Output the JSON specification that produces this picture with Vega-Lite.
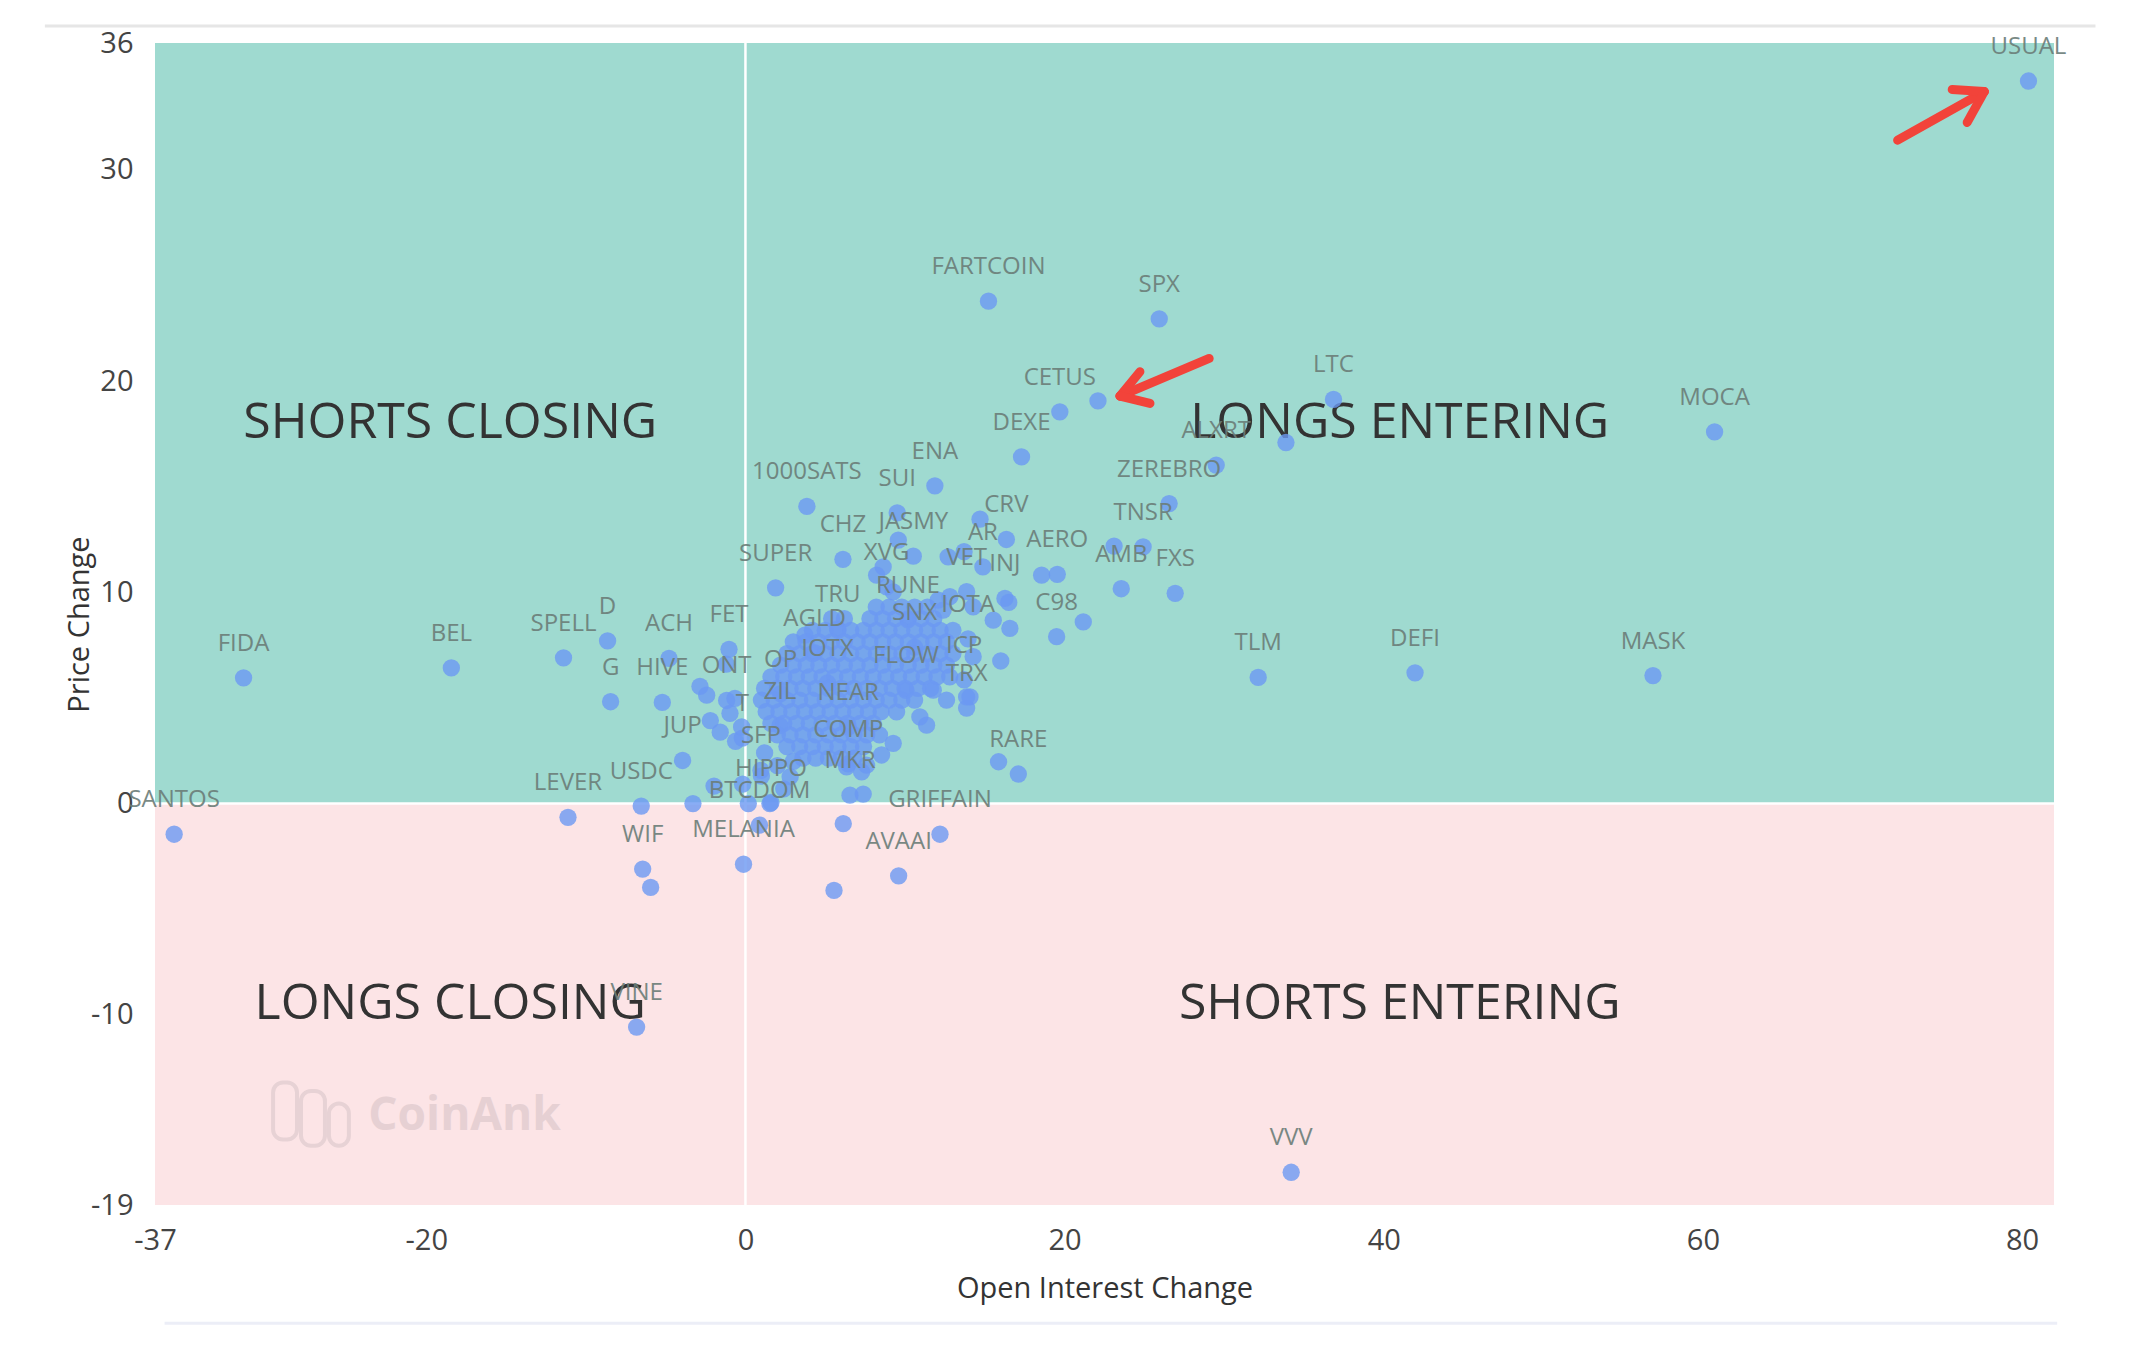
{
 "$schema": "https://vega.github.io/schema/vega-lite/v6.json",
 "width": 1899,
 "height": 1162,
 "autosize": {"type": "none"},
 "padding": {"left": 155, "top": 43, "right": 90, "bottom": 145},
 "background": "white",
 "config": {"view": {"stroke": null}, "font": "Open Sans"},
 "datasets": {
  "quadUp": [{"oi": -37, "oi2": 82, "pc": 0, "pc2": 36}],
  "quadDown": [{"oi": -37, "oi2": 82, "pc": -19, "pc2": 0}],
  "cross": [
   {"oi": 0, "oi2": 0, "pc": -19, "pc2": 36},
   {"oi": -37, "oi2": 82, "pc": 0, "pc2": 0}
  ],
  "frameTop": [{"oi": -43.9, "oi2": 84.6, "pc": 36.8, "pc2": 36.8}],
  "frameBot": [{"oi": -36.4, "oi2": 82.2, "pc": -24.6, "pc2": -24.6}],
  "zones": [
   {"oi": -18.5, "pc": 18, "txt": "SHORTS CLOSING"},
   {"oi": 41, "pc": 18, "txt": "LONGS ENTERING"},
   {"oi": -18.5, "pc": -9.5, "txt": "LONGS CLOSING"},
   {"oi": 41, "pc": -9.5, "txt": "SHORTS ENTERING"}
  ],
  "wmark": [{"oi": -17.6, "pc": -14.8, "txt": "CoinAnk"}],
  "logo": [
   {"oi": -29.6, "oi2": -28.1, "pc": -13.2, "pc2": -15.9},
   {"oi": -27.85, "oi2": -26.35, "pc": -13.6, "pc2": -16.2},
   {"oi": -26.1, "oi2": -24.85, "pc": -14.2, "pc2": -16.2}
  ],
  "arrows": [
   {"oi": 72.2, "pc": 31.4, "oi2": 77.63, "pc2": 33.7},
   {"oi": 75.62, "pc": 33.8, "oi2": 77.63, "pc2": 33.7},
   {"oi": 76.56, "pc": 32.24, "oi2": 77.63, "pc2": 33.7},
   {"oi": 29.06, "pc": 21.07, "oi2": 23.47, "pc2": 19.29},
   {"oi": 24.72, "pc": 20.44, "oi2": 23.47, "pc2": 19.29},
   {"oi": 25.35, "pc": 18.94, "oi2": 23.47, "pc2": 19.29}
  ],
  "pts": [
   {"coin": "USUAL", "oi": 80.4, "pc": 34.2},
   {"coin": "FARTCOIN", "oi": 15.23, "pc": 23.78},
   {"coin": "SPX", "oi": 25.93, "pc": 22.94},
   {"coin": "CETUS", "oi": 19.7, "pc": 18.54},
   {"coin": "LTC", "oi": 36.85, "pc": 19.13},
   {"coin": "MOCA", "oi": 60.73, "pc": 17.59},
   {"coin": "DEXE", "oi": 17.3, "pc": 16.41},
   {"coin": "ALXRT", "oi": 29.5, "pc": 16.02},
   {"coin": "ZEREBRO", "oi": 26.55, "pc": 14.2},
   {"coin": "ENA", "oi": 11.87, "pc": 15.04},
   {"coin": "1000SATS", "oi": 3.85, "pc": 14.07},
   {"coin": "SUI", "oi": 9.51, "pc": 13.76},
   {"coin": "CRV", "oi": 16.35, "pc": 12.5},
   {"coin": "TNSR", "oi": 24.92, "pc": 12.15},
   {"coin": "CHZ", "oi": 6.11, "pc": 11.56},
   {"coin": "JASMY", "oi": 10.52, "pc": 11.71},
   {"coin": "AR", "oi": 14.88, "pc": 11.2},
   {"coin": "AERO", "oi": 19.54, "pc": 10.85},
   {"coin": "SUPER", "oi": 1.89, "pc": 10.21},
   {"coin": "XVG", "oi": 8.85, "pc": 10.26},
   {"coin": "VET", "oi": 13.86, "pc": 10.03},
   {"coin": "INJ", "oi": 16.26, "pc": 9.71},
   {"coin": "AMB", "oi": 23.55, "pc": 10.17},
   {"coin": "FXS", "oi": 26.93, "pc": 9.95},
   {"coin": "TRU", "oi": 5.78, "pc": 8.27},
   {"coin": "RUNE", "oi": 10.18, "pc": 8.7},
   {"coin": "C98", "oi": 19.5, "pc": 7.9},
   {"coin": "D", "oi": -8.64, "pc": 7.7},
   {"coin": "IOTA", "oi": 13.95, "pc": 7.8},
   {"coin": "SNX", "oi": 10.6, "pc": 7.4},
   {"coin": "SPELL", "oi": -11.4, "pc": 6.9},
   {"coin": "AGLD", "oi": 4.33, "pc": 7.14},
   {"coin": "ACH", "oi": -4.79, "pc": 6.87},
   {"coin": "FET", "oi": -1.03, "pc": 7.3},
   {"coin": "BEL", "oi": -18.43, "pc": 6.42},
   {"coin": "TLM", "oi": 32.13, "pc": 5.97},
   {"coin": "DEFI", "oi": 41.96, "pc": 6.19},
   {"coin": "MASK", "oi": 56.87, "pc": 6.06},
   {"coin": "FIDA", "oi": -31.45, "pc": 5.95},
   {"coin": "IOTX", "oi": 5.14, "pc": 5.71},
   {"coin": "ICP", "oi": 13.7, "pc": 5.86},
   {"coin": "FLOW", "oi": 10.06, "pc": 5.36},
   {"coin": "OP", "oi": 2.2, "pc": 5.2},
   {"coin": "G", "oi": -8.45, "pc": 4.82},
   {"coin": "HIVE", "oi": -5.21, "pc": 4.79},
   {"coin": "ONT", "oi": -1.18, "pc": 4.88},
   {"coin": "TRX", "oi": 13.86, "pc": 4.52},
   {"coin": "ZIL", "oi": 2.16, "pc": 3.69},
   {"coin": "NEAR", "oi": 6.44, "pc": 3.62},
   {"coin": "T", "oi": -0.2, "pc": 3.1},
   {"coin": "JUP", "oi": -3.94, "pc": 2.04},
   {"coin": "COMP", "oi": 6.44, "pc": 1.88},
   {"coin": "SFP", "oi": 0.97, "pc": 1.57},
   {"coin": "RARE", "oi": 17.1, "pc": 1.4},
   {"coin": "MKR", "oi": 6.55, "pc": 0.4},
   {"coin": "HIPPO", "oi": 1.6, "pc": 0.05},
   {"coin": "USDC", "oi": -6.53, "pc": -0.12},
   {"coin": "LEVER", "oi": -11.12, "pc": -0.65},
   {"coin": "BTCDOM", "oi": 0.88, "pc": -1.02},
   {"coin": "SANTOS", "oi": -35.8, "pc": -1.45},
   {"coin": "GRIFFAIN", "oi": 12.19, "pc": -1.45},
   {"coin": "WIF", "oi": -6.44, "pc": -3.1},
   {"coin": "MELANIA", "oi": -0.12, "pc": -2.87},
   {"coin": "AVAAI", "oi": 9.6, "pc": -3.42},
   {"coin": "VINE", "oi": -6.82, "pc": -10.58},
   {"coin": "VVV", "oi": 34.2, "pc": -17.45},
   {"coin": "", "oi": 22.09, "pc": 19.06},
   {"coin": "", "oi": 33.87, "pc": 17.09},
   {"coin": "", "oi": 14.7, "pc": 13.46},
   {"coin": "", "oi": 23.1, "pc": 12.19},
   {"coin": "", "oi": 9.58, "pc": 12.47},
   {"coin": "", "oi": 12.7, "pc": 11.68},
   {"coin": "", "oi": 13.7, "pc": 11.92},
   {"coin": "", "oi": 18.56, "pc": 10.81},
   {"coin": "", "oi": 16.5, "pc": 9.52},
   {"coin": "", "oi": 12.08, "pc": 9.63},
   {"coin": "", "oi": 12.81, "pc": 9.79},
   {"coin": "", "oi": 12.39, "pc": 9.16},
   {"coin": "", "oi": 14.27, "pc": 9.31},
   {"coin": "", "oi": 15.53, "pc": 8.68},
   {"coin": "", "oi": 16.57, "pc": 8.29},
   {"coin": "", "oi": 21.17, "pc": 8.6},
   {"coin": "", "oi": 8.63, "pc": 11.2},
   {"coin": "", "oi": 8.22, "pc": 10.81},
   {"coin": "", "oi": 9.26, "pc": 10.02},
   {"coin": "", "oi": 14.27, "pc": 6.95},
   {"coin": "", "oi": 16.0, "pc": 6.75},
   {"coin": "", "oi": 14.07, "pc": 5.05},
   {"coin": "", "oi": 11.77, "pc": 5.37},
   {"coin": "", "oi": 12.6, "pc": 4.9},
   {"coin": "", "oi": 13.86, "pc": 5.05},
   {"coin": "", "oi": 11.35, "pc": 3.71},
   {"coin": "", "oi": 10.93, "pc": 4.1},
   {"coin": "", "oi": 9.47, "pc": 4.34},
   {"coin": "", "oi": 9.26, "pc": 2.85},
   {"coin": "", "oi": 8.53, "pc": 2.3},
   {"coin": "", "oi": 7.59, "pc": 1.82},
   {"coin": "", "oi": 7.28, "pc": 1.5},
   {"coin": "", "oi": 6.34, "pc": 1.74},
   {"coin": "", "oi": 7.38, "pc": 0.45},
   {"coin": "", "oi": 15.86, "pc": 1.98},
   {"coin": "", "oi": 6.13, "pc": -0.95},
   {"coin": "", "oi": 5.55, "pc": -4.11},
   {"coin": "", "oi": 1.53, "pc": 0.0},
   {"coin": "", "oi": 0.18, "pc": 0.0},
   {"coin": "", "oi": -0.18, "pc": 0.92},
   {"coin": "", "oi": -1.97, "pc": 0.83},
   {"coin": "", "oi": -3.29, "pc": 0.0},
   {"coin": "", "oi": -5.94, "pc": -3.97},
   {"coin": "", "oi": -2.85, "pc": 5.55},
   {"coin": "", "oi": -2.43, "pc": 5.13},
   {"coin": "", "oi": -0.66, "pc": 4.98},
   {"coin": "", "oi": -0.97, "pc": 4.27},
   {"coin": "", "oi": -2.2, "pc": 3.93},
   {"coin": "", "oi": -1.58, "pc": 3.38},
   {"coin": "", "oi": -0.62, "pc": 2.95},
   {"coin": "", "oi": -0.24, "pc": 3.63},
   {"coin": "", "oi": -1.2, "pc": 6.6},
   {"coin": "", "oi": 3.73, "pc": 7.97},
   {"coin": "", "oi": 1.2, "pc": 2.4},
   {"coin": "", "oi": 2.0, "pc": 1.8},
   {"coin": "", "oi": 2.8, "pc": 1.27},
   {"coin": "", "oi": 3.0, "pc": 2.0},
   {"coin": "", "oi": 1.0, "pc": 1.3},
   {"coin": "", "oi": 2.4, "pc": 0.7},
   {"coin": "", "oi": 8.2, "pc": 9.3}, {"coin": "", "oi": 9.0, "pc": 9.3}, {"coin": "", "oi": 9.8, "pc": 9.3}, {"coin": "", "oi": 10.6, "pc": 9.3}, {"coin": "", "oi": 11.4, "pc": 9.3},
   {"coin": "", "oi": 5.4, "pc": 8.75}, {"coin": "", "oi": 6.2, "pc": 8.75}, {"coin": "", "oi": 7.8, "pc": 8.75}, {"coin": "", "oi": 8.6, "pc": 8.75}, {"coin": "", "oi": 9.4, "pc": 8.75}, {"coin": "", "oi": 10.2, "pc": 8.75}, {"coin": "", "oi": 11.0, "pc": 8.75}, {"coin": "", "oi": 11.8, "pc": 8.75},
   {"coin": "", "oi": 4.2, "pc": 8.2}, {"coin": "", "oi": 5.0, "pc": 8.2}, {"coin": "", "oi": 5.8, "pc": 8.2}, {"coin": "", "oi": 6.6, "pc": 8.2}, {"coin": "", "oi": 7.4, "pc": 8.2}, {"coin": "", "oi": 8.2, "pc": 8.2}, {"coin": "", "oi": 9.0, "pc": 8.2}, {"coin": "", "oi": 9.8, "pc": 8.2}, {"coin": "", "oi": 10.6, "pc": 8.2}, {"coin": "", "oi": 11.4, "pc": 8.2}, {"coin": "", "oi": 12.2, "pc": 8.2}, {"coin": "", "oi": 13.0, "pc": 8.2},
   {"coin": "", "oi": 3.0, "pc": 7.65}, {"coin": "", "oi": 3.8, "pc": 7.65}, {"coin": "", "oi": 4.6, "pc": 7.65}, {"coin": "", "oi": 5.4, "pc": 7.65}, {"coin": "", "oi": 6.2, "pc": 7.65}, {"coin": "", "oi": 7.0, "pc": 7.65}, {"coin": "", "oi": 7.8, "pc": 7.65}, {"coin": "", "oi": 8.6, "pc": 7.65}, {"coin": "", "oi": 9.4, "pc": 7.65}, {"coin": "", "oi": 10.2, "pc": 7.65}, {"coin": "", "oi": 11.0, "pc": 7.65}, {"coin": "", "oi": 11.8, "pc": 7.65}, {"coin": "", "oi": 12.6, "pc": 7.65},
   {"coin": "", "oi": 2.6, "pc": 7.1}, {"coin": "", "oi": 3.4, "pc": 7.1}, {"coin": "", "oi": 4.2, "pc": 7.1}, {"coin": "", "oi": 5.0, "pc": 7.1}, {"coin": "", "oi": 5.8, "pc": 7.1}, {"coin": "", "oi": 6.6, "pc": 7.1}, {"coin": "", "oi": 7.4, "pc": 7.1}, {"coin": "", "oi": 8.2, "pc": 7.1}, {"coin": "", "oi": 9.0, "pc": 7.1}, {"coin": "", "oi": 9.8, "pc": 7.1}, {"coin": "", "oi": 10.6, "pc": 7.1}, {"coin": "", "oi": 11.4, "pc": 7.1}, {"coin": "", "oi": 12.2, "pc": 7.1}, {"coin": "", "oi": 13.0, "pc": 7.1},
   {"coin": "", "oi": 2.2, "pc": 6.55}, {"coin": "", "oi": 3.0, "pc": 6.55}, {"coin": "", "oi": 3.8, "pc": 6.55}, {"coin": "", "oi": 4.6, "pc": 6.55}, {"coin": "", "oi": 5.4, "pc": 6.55}, {"coin": "", "oi": 6.2, "pc": 6.55}, {"coin": "", "oi": 7.0, "pc": 6.55}, {"coin": "", "oi": 7.8, "pc": 6.55}, {"coin": "", "oi": 8.6, "pc": 6.55}, {"coin": "", "oi": 9.4, "pc": 6.55}, {"coin": "", "oi": 10.2, "pc": 6.55}, {"coin": "", "oi": 11.0, "pc": 6.55}, {"coin": "", "oi": 11.8, "pc": 6.55}, {"coin": "", "oi": 12.6, "pc": 6.55},
   {"coin": "", "oi": 1.6, "pc": 6.0}, {"coin": "", "oi": 2.4, "pc": 6.0}, {"coin": "", "oi": 3.2, "pc": 6.0}, {"coin": "", "oi": 4.0, "pc": 6.0}, {"coin": "", "oi": 4.8, "pc": 6.0}, {"coin": "", "oi": 5.6, "pc": 6.0}, {"coin": "", "oi": 6.4, "pc": 6.0}, {"coin": "", "oi": 7.2, "pc": 6.0}, {"coin": "", "oi": 8.0, "pc": 6.0}, {"coin": "", "oi": 8.8, "pc": 6.0}, {"coin": "", "oi": 9.6, "pc": 6.0}, {"coin": "", "oi": 10.4, "pc": 6.0}, {"coin": "", "oi": 11.2, "pc": 6.0}, {"coin": "", "oi": 12.0, "pc": 6.0}, {"coin": "", "oi": 12.8, "pc": 6.0},
   {"coin": "", "oi": 1.2, "pc": 5.45}, {"coin": "", "oi": 2.0, "pc": 5.45}, {"coin": "", "oi": 2.8, "pc": 5.45}, {"coin": "", "oi": 3.6, "pc": 5.45}, {"coin": "", "oi": 4.4, "pc": 5.45}, {"coin": "", "oi": 5.2, "pc": 5.45}, {"coin": "", "oi": 6.0, "pc": 5.45}, {"coin": "", "oi": 6.8, "pc": 5.45}, {"coin": "", "oi": 7.6, "pc": 5.45}, {"coin": "", "oi": 8.4, "pc": 5.45}, {"coin": "", "oi": 9.2, "pc": 5.45}, {"coin": "", "oi": 10.0, "pc": 5.45}, {"coin": "", "oi": 10.8, "pc": 5.45}, {"coin": "", "oi": 11.6, "pc": 5.45},
   {"coin": "", "oi": 1.0, "pc": 4.9}, {"coin": "", "oi": 1.8, "pc": 4.9}, {"coin": "", "oi": 2.6, "pc": 4.9}, {"coin": "", "oi": 3.4, "pc": 4.9}, {"coin": "", "oi": 4.2, "pc": 4.9}, {"coin": "", "oi": 5.0, "pc": 4.9}, {"coin": "", "oi": 5.8, "pc": 4.9}, {"coin": "", "oi": 6.6, "pc": 4.9}, {"coin": "", "oi": 7.4, "pc": 4.9}, {"coin": "", "oi": 8.2, "pc": 4.9}, {"coin": "", "oi": 9.0, "pc": 4.9}, {"coin": "", "oi": 9.8, "pc": 4.9}, {"coin": "", "oi": 10.6, "pc": 4.9},
   {"coin": "", "oi": 1.3, "pc": 4.35}, {"coin": "", "oi": 2.1, "pc": 4.35}, {"coin": "", "oi": 2.9, "pc": 4.35}, {"coin": "", "oi": 3.7, "pc": 4.35}, {"coin": "", "oi": 4.5, "pc": 4.35}, {"coin": "", "oi": 5.3, "pc": 4.35}, {"coin": "", "oi": 6.1, "pc": 4.35}, {"coin": "", "oi": 6.9, "pc": 4.35}, {"coin": "", "oi": 7.7, "pc": 4.35}, {"coin": "", "oi": 8.5, "pc": 4.35},
   {"coin": "", "oi": 1.6, "pc": 3.8}, {"coin": "", "oi": 2.4, "pc": 3.8}, {"coin": "", "oi": 3.2, "pc": 3.8}, {"coin": "", "oi": 4.0, "pc": 3.8}, {"coin": "", "oi": 4.8, "pc": 3.8}, {"coin": "", "oi": 5.6, "pc": 3.8}, {"coin": "", "oi": 6.4, "pc": 3.8}, {"coin": "", "oi": 7.2, "pc": 3.8}, {"coin": "", "oi": 8.0, "pc": 3.8},
   {"coin": "", "oi": 2.0, "pc": 3.25}, {"coin": "", "oi": 2.8, "pc": 3.25}, {"coin": "", "oi": 3.6, "pc": 3.25}, {"coin": "", "oi": 4.4, "pc": 3.25}, {"coin": "", "oi": 5.2, "pc": 3.25}, {"coin": "", "oi": 6.0, "pc": 3.25}, {"coin": "", "oi": 6.8, "pc": 3.25}, {"coin": "", "oi": 7.6, "pc": 3.25}, {"coin": "", "oi": 8.4, "pc": 3.25},
   {"coin": "", "oi": 2.6, "pc": 2.7}, {"coin": "", "oi": 3.4, "pc": 2.7}, {"coin": "", "oi": 4.2, "pc": 2.7}, {"coin": "", "oi": 5.0, "pc": 2.7}, {"coin": "", "oi": 5.8, "pc": 2.7}, {"coin": "", "oi": 6.6, "pc": 2.7}, {"coin": "", "oi": 7.4, "pc": 2.7},
   {"coin": "", "oi": 3.6, "pc": 2.15}, {"coin": "", "oi": 4.4, "pc": 2.15}, {"coin": "", "oi": 5.2, "pc": 2.15}, {"coin": "", "oi": 6.0, "pc": 2.15}, {"coin": "", "oi": 6.8, "pc": 2.15}
  ]
 },
 "encoding": {
  "x": {
   "field": "oi", "type": "quantitative", "title": "Open Interest Change",
   "scale": {"domain": [-37, 82], "nice": false, "zero": false},
   "axis": {
    "values": [-37, -20, 0, 20, 40, 60, 80], "grid": false, "domain": false, "ticks": false,
    "labelExpr": "'' + datum.value",
    "labelFlush": false, "labelOverlap": false, "labelFontSize": 29, "labelFont": "Open Sans", "labelColor": "#444",
    "labelPadding": 21, "titleFont": "Open Sans", "titleFontSize": 29, "titleFontWeight": "normal", "titleColor": "#333",
    "titleY": 83, "titleBaseline": "middle"
   }
  },
  "y": {
   "field": "pc", "type": "quantitative", "title": "Price Change",
   "scale": {"domain": [-19, 36], "nice": false, "zero": false},
   "axis": {
    "values": [-19, -10, 0, 10, 20, 30, 36], "grid": false, "domain": false, "ticks": false,
    "labelExpr": "'' + datum.value",
    "labelFlush": false, "labelOverlap": false, "labelFontSize": 29, "labelFont": "Open Sans", "labelColor": "#444",
    "labelPadding": 22, "titleFont": "Open Sans", "titleFontSize": 29, "titleFontWeight": "normal", "titleColor": "#333",
    "titleX": -76, "titleY": 581, "titleAngle": -90, "titleBaseline": "middle", "titleAlign": "center"
   }
  }
 },
 "layer": [
  {
   "data": {"name": "frameTop"},
   "mark": {"type": "rule", "strokeWidth": 3, "color": "#e6e6e6", "clip": false},
   "encoding": {"x2": {"field": "oi2"}, "y2": {"field": "pc2"}}
  },
  {
   "data": {"name": "frameBot"},
   "mark": {"type": "rule", "strokeWidth": 3, "color": "#eceef7", "clip": false},
   "encoding": {"x2": {"field": "oi2"}, "y2": {"field": "pc2"}}
  },
  {
   "data": {"name": "quadUp"},
   "mark": {"type": "rect", "color": "#9fdad0"},
   "encoding": {"x2": {"field": "oi2"}, "y2": {"field": "pc2"}}
  },
  {
   "data": {"name": "quadDown"},
   "mark": {"type": "rect", "color": "#fce4e6"},
   "encoding": {"x2": {"field": "oi2"}, "y2": {"field": "pc2"}}
  },
  {
   "data": {"name": "cross"},
   "mark": {"type": "rule", "color": "white", "strokeWidth": 2.5},
   "encoding": {"x2": {"field": "oi2"}, "y2": {"field": "pc2"}}
  },
  {
   "data": {"name": "zones"},
   "mark": {"type": "text", "fontSize": 50, "font": "Open Sans", "color": "#333333", "align": "center", "baseline": "middle"},
   "encoding": {"text": {"field": "txt"}}
  },
  {
   "data": {"name": "logo"},
   "mark": {"type": "rect", "filled": false, "stroke": "#e7d2d5", "strokeWidth": 4, "cornerRadius": 10},
   "encoding": {"x2": {"field": "oi2"}, "y2": {"field": "pc2"}}
  },
  {
   "data": {"name": "wmark"},
   "mark": {"type": "text", "fontSize": 46, "font": "Open Sans", "fontWeight": "bold", "color": "#e6d0d3", "align": "center", "baseline": "middle"},
   "encoding": {"text": {"field": "txt"}}
  },
  {
   "data": {"name": "pts"},
   "mark": {"type": "circle", "size": 300, "color": "#6b98f2", "opacity": 0.8}
  },
  {
   "data": {"name": "pts"},
   "transform": [{"filter": "datum.coin != ''"}],
   "mark": {"type": "text", "dy": -27, "baseline": "alphabetic", "align": "center", "fontSize": 24, "font": "Open Sans", "color": "#6b7d78", "opacity": 0.9},
   "encoding": {"text": {"field": "coin"}}
  },
  {
   "data": {"name": "arrows"},
   "mark": {"type": "rule", "color": "#f2433a", "strokeWidth": 9, "strokeCap": "round"},
   "encoding": {"x2": {"field": "oi2"}, "y2": {"field": "pc2"}}
  }
 ]
}
